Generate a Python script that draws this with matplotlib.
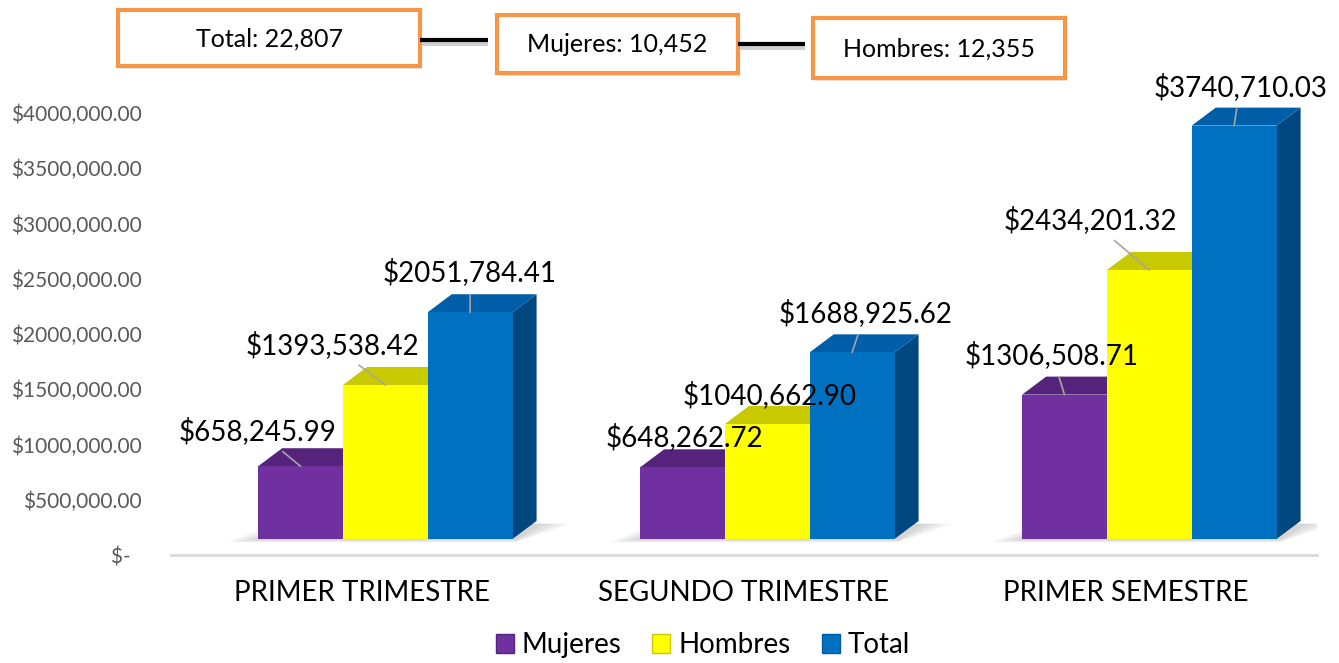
import matplotlib
matplotlib.use('Agg')
import matplotlib.pyplot as plt
from matplotlib.patches import Polygon, Rectangle, Patch

# data
categories = ['PRIMER TRIMESTRE', 'SEGUNDO TRIMESTRE', 'PRIMER SEMESTRE']
series_names = ['Mujeres', 'Hombres', 'Total']
mujeres = [658245.99, 648262.72, 1306508.71]
hombres = [1393538.42, 1040662.90, 2434201.32]
total = [2051784.41, 1688925.62, 3740710.03]
y_ticks = [0, 500000, 1000000, 1500000, 2000000, 2500000, 3000000, 3500000, 4000000]
box_names = ['Total', 'Mujeres', 'Hombres']
box_counts = [22807, 10452, 12355]

plt.rcParams['font.family'] = ['Lato', 'DejaVu Sans']


def money(v):
    # excel style: $2051,784.41 (only the last thousands comma)
    cents = int(round(v * 100))
    whole, c = divmod(cents, 100)
    if whole == 0:
        return '$-  '
    if whole >= 1000:
        return '$%d,%03d.%02d' % (whole // 1000, whole % 1000, c)
    return '$%d.%02d' % (whole, c)


# colours: front, top, side
colors = {
    'Mujeres': ('#7030A0', '#55237B', '#4A1F6B'),
    'Hombres': ('#FFFF00', '#C9C900', '#A8A800'),
    'Total': ('#0070C0', '#005EA8', '#00477F'),
}

fig = plt.figure(figsize=(13.39, 6.63), dpi=100)
ax = fig.add_axes([171 / 1339, 108 / 663, 1146 / 1339, 497.25 / 663])
ax.set_xlim(-0.5, 2.5)
ax.set_ylim(0, 4.5e6)

FLOOR = 0.145e6   # front faces sit a little above the axis line
DX = 0.063        # depth offset in category units
DY = 0.163e6      # depth offset in value units
W = 0.222
offsets = [-0.272, -0.050, 0.172]

# label offsets in pixels (dx, dy down) from the front top centre of each bar
label_offsets = [
    [(-42.5, -35), (-53, -40), (0, -40)],
    [(1.5, -30), (2, -29), (13, -39)],
    [(-12.5, -40), (-59, -50), (6, -39)],
]

all_series = [mujeres, hombres, total]

for i, cat in enumerate(categories):
    left = i + offsets[0]
    right = i + offsets[-1] + W
    # soft shadow on the floor
    for k in range(5):
        g = 0.018 * k
        shadow = Polygon([(left - 0.08 + g, FLOOR - 0.03e6 + g * 0.3e6),
                          (right + 0.01, FLOOR - 0.03e6 + g * 0.3e6),
                          (right + DX + 0.09 - g, FLOOR + DY * 0.85),
                          (left + DX - 0.02 + g, FLOOR + DY * 0.85)],
                         closed=True, facecolor='#7F7F7F', edgecolor='none',
                         alpha=0.07, zorder=1)
        ax.add_patch(shadow)

    for j, name in enumerate(series_names):
        v = all_series[j][i]
        front, topc, sidec = colors[name]
        x0 = i + offsets[j]
        x1 = x0 + W
        top = v + FLOOR
        z = 2 + j * 3
        side = Polygon([(x1, FLOOR), (x1 + DX, FLOOR + DY), (x1 + DX, top + DY), (x1, top)],
                       closed=True, facecolor=sidec, edgecolor='none', zorder=z)
        ax.add_patch(side)
        lid = Polygon([(x0, top), (x0 + DX, top + DY), (x1 + DX, top + DY), (x1, top)],
                      closed=True, facecolor=topc, edgecolor='none', zorder=z + 1)
        ax.add_patch(lid)
        ax.bar(x0, v, width=W, bottom=FLOOR, align='edge', color=front,
               edgecolor='none', zorder=z + 2)

        dx, dy = label_offsets[i][j]
        # excel hides the leader line when the label sits close to the bar
        arrow = None
        if (dx ** 2 + dy ** 2) ** 0.5 > 35:
            arrow = dict(arrowstyle='-', color='#A6A6A6', lw=1.2, shrinkA=4, shrinkB=0)
        ax.annotate(money(v), xy=(x0 + W / 2, top), xytext=(dx * 0.72, -dy * 0.72),
                    textcoords='offset points', ha='center', va='center',
                    fontsize=20, color='black', zorder=20, arrowprops=arrow)

ax.set_yticks(y_ticks)
ax.set_yticklabels([money(t) for t in y_ticks])
ax.set_xticks(range(len(categories)))
ax.set_xticklabels(categories)
ax.tick_params(axis='y', length=0, pad=21, labelcolor='#595959', labelsize=15)
ax.tick_params(axis='x', length=0, pad=18, labelcolor='black', labelsize=20)
for s in ['top', 'right', 'left']:
    ax.spines[s].set_visible(False)
ax.spines['bottom'].set_color('#D9D9D9')
ax.spines['bottom'].set_linewidth(2)
ax.set_facecolor('none')

handles = [Patch(facecolor=colors[n][0], edgecolor=colors[n][1], label=n) for n in series_names]
fig.legend(handles=handles, loc='center', bbox_to_anchor=(703 / 1339, 18 / 663), ncol=3,
           frameon=False, fontsize=20, handlelength=0.65, handleheight=0.65,
           handletextpad=0.3, columnspacing=1.1)

# boxes with the headcounts on top
ov = fig.add_axes([0, 0, 1, 1])
ov.set_xlim(0, 1339)
ov.set_ylim(663, 0)
ov.axis('off')
box_rects = [(118, 10, 302, 56), (497, 15, 241, 58), (813, 18, 252, 60)]
for (bx, by, bw, bh), name, cnt in zip(box_rects, box_names, box_counts):
    ov.add_patch(Rectangle((bx + 2, by + 3), bw, bh, facecolor='#E6E6E6', edgecolor='none', zorder=1))
    ov.add_patch(Rectangle((bx, by), bw, bh, facecolor='white', edgecolor='#F79646', lw=3, zorder=2))
    ov.text(bx + bw / 2, by + bh / 2 + 1, '%s: %s' % (name, format(cnt, ',')),
            ha='center', va='center', fontsize=18, color='black', zorder=3)
connectors = [(420, 488, 40), (738, 805, 44)]
for xa, xb, yy in connectors:
    ov.plot([xa, xb], [yy + 4, yy + 4], color='#D0D0D0', lw=3, solid_capstyle='butt', zorder=1)
    ov.plot([xa, xb], [yy, yy], color='black', lw=3, solid_capstyle='butt', zorder=2)

fig.savefig('out.png', dpi=100)
